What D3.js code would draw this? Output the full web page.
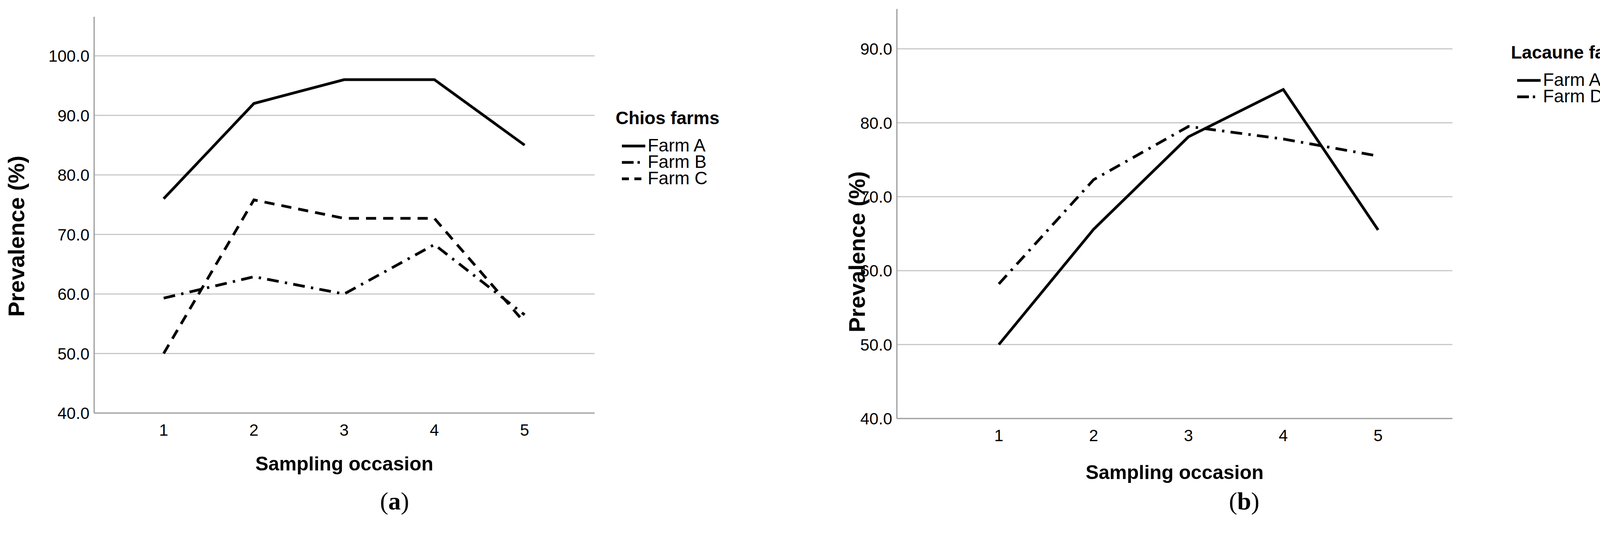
<!DOCTYPE html>
<html><head><meta charset="utf-8">
<script src="https://cdn.jsdelivr.net/npm/d3@7"></script>
<style>body{margin:0;background:#fff}svg{display:block}</style>
</head><body>
<svg id="c" width="4128" height="1419"></svg>
<script>
const occasions = [1, 2, 3, 4, 5];
const chiosA = [76.0, 92.0, 96.0, 96.0, 85.0];
const chiosB = [59.3, 62.9, 60.0, 68.3, 56.5];
const chiosC = [50.0, 75.8, 72.7, 72.7, 55.2];
const lacA = [50.0, 65.6, 78.1, 84.5, 65.5];
const lacD = [58.2, 72.3, 79.5, 77.8, 75.5];
const ticksA = [40, 50, 60, 70, 80, 90, 100];
const ticksB = [40, 50, 60, 70, 80, 90];

const dashes = { solid: null, dashdot: '30,16,6,16', dash: '26,18' };
const narrow = '"Liberation Sans Narrow", "Liberation Sans", Arial, sans-serif';
const svg = d3.select('#c');

function panel(o) {
  const g = svg.append('g');
  const x = d3.scaleLinear().domain([1, 5]).range([o.x1, o.x5]);
  const y = d3.scaleLinear().domain([40, o.ymax10]).range([o.bottom, o.bottom - (o.ymax10 - 40) * o.per10 / 10]);

  g.selectAll('.grid').data(o.ticks.slice(1)).enter().append('line')
    .attr('x1', o.left).attr('x2', o.right)
    .attr('y1', d => y(d)).attr('y2', d => y(d))
    .attr('stroke', '#c8c8c8').attr('stroke-width', 3);
  g.append('line').attr('x1', o.left).attr('x2', o.left).attr('y1', o.top).attr('y2', o.bottom)
    .attr('stroke', '#999').attr('stroke-width', 3);
  g.append('line').attr('x1', o.left).attr('x2', o.right).attr('y1', o.bottom).attr('y2', o.bottom)
    .attr('stroke', '#999').attr('stroke-width', 3);

  g.selectAll('.yt').data(o.ticks).enter().append('text')
    .attr('x', o.left - 12).attr('y', d => y(d)).attr('dy', '0.36em')
    .attr('text-anchor', 'end').style('font', `42px ${narrow}`).text(d => d.toFixed(1));
  g.selectAll('.xt').data(occasions).enter().append('text')
    .attr('x', d => x(d)).attr('y', o.bottom + 58).attr('text-anchor', 'middle')
    .style('font', `42px ${narrow}`).text(d => d);

  g.append('text').attr('x', (o.left + o.right) / 2).attr('y', o.xty)
    .attr('text-anchor', 'middle').style('font', `bold 50px ${narrow}`).text('Sampling occasion');
  g.append('text').attr('transform', `translate(${o.ytx},${o.yty}) rotate(-90)`)
    .attr('text-anchor', 'middle')
    .style('font', 'bold 58px "Liberation Sans", Arial, sans-serif').text('Prevalence (%)');

  const line = d3.line().x((d, i) => x(occasions[i])).y(d => y(d));
  o.series.forEach(s => {
    g.append('path').attr('d', line(s.values)).attr('fill', 'none')
      .attr('stroke', '#000').attr('stroke-width', 7)
      .attr('stroke-dasharray', dashes[s.style]);
  });

  g.append('text').attr('x', o.legX).attr('y', o.legY)
    .style('font', `bold 46px ${narrow}`).text(o.legTitle);
  o.series.forEach((s, i) => {
    const yy = o.legY + 70 + i * 42;
    g.append('line').attr('x1', o.legX + 16).attr('x2', o.legX + 76)
      .attr('y1', yy - 14).attr('y2', yy - 14).attr('stroke', '#000').attr('stroke-width', 7)
      .attr('stroke-dasharray', s.style === 'dashdot' ? '30,10,6,100' : s.style === 'dash' ? '18,14,18,14,4,100' : null);
    g.append('text').attr('x', o.legX + 82).attr('y', yy)
      .style('font', `46px ${narrow}`).text(s.name);
  });

  g.append('text').attr('x', o.labX).attr('y', 1305).attr('text-anchor', 'middle')
    .style('font', '64px "Liberation Serif", "Times New Roman", serif')
    .html(`(<tspan font-weight="bold">${o.lab}</tspan>)`);
}

panel({
  left: 241, right: 1522, x1: 419, x5: 1343, top: 43, bottom: 1058, per10: 152.5, ymax10: 100, ticks: ticksA,
  ytx: 62, yty: 605, xty: 1205, legX: 1576, legY: 318, legTitle: 'Chios farms', labX: 1010, lab: 'a',
  series: [
    { name: 'Farm A', values: chiosA, style: 'solid' },
    { name: 'Farm B', values: chiosB, style: 'dashdot' },
    { name: 'Farm C', values: chiosC, style: 'dash' }
  ]
});
panel({
  left: 2296, right: 3718, x1: 2557, x5: 3528, top: 23, bottom: 1072, per10: 189.4, ymax10: 90, ticks: ticksB,
  ytx: 2214, yty: 645, xty: 1227, legX: 3868, legY: 150, legTitle: 'Lacaune farms', labX: 3185, lab: 'b',
  series: [
    { name: 'Farm A', values: lacA, style: 'solid' },
    { name: 'Farm D', values: lacD, style: 'dashdot' }
  ]
});
</script>
</body></html>
